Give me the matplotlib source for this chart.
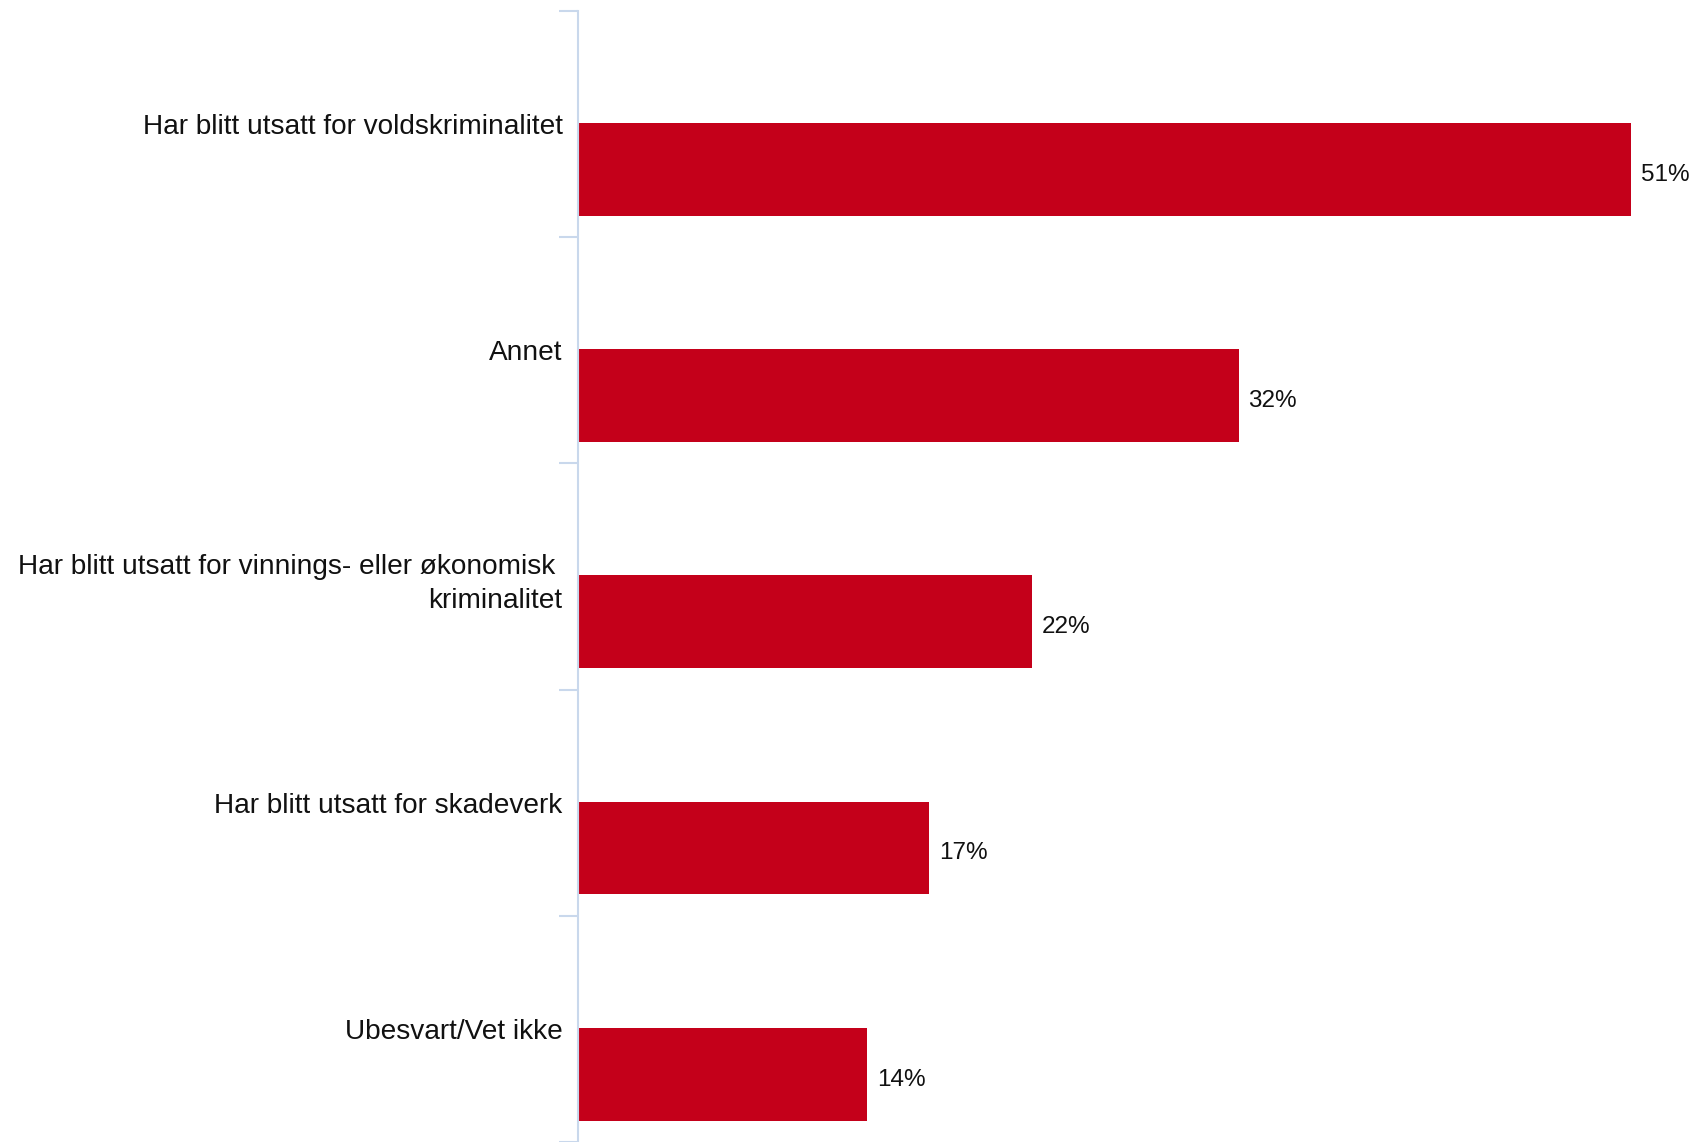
import matplotlib.pyplot as plt
import numpy as np

categories = [
    "Har blitt utsatt for voldskriminalitet",
    "Annet",
    "Har blitt utsatt for vinnings- eller økonomisk \nkriminalitet",
    "Har blitt utsatt for skadeverk",
    "Ubesvart/Vet ikke",
]
values = [51, 32, 22, 17, 14]
value_labels = ["51%", "32%", "22%", "17%", "14%"]

plt.rcParams["font.family"] = ["Liberation Sans", "DejaVu Sans"]

fig = plt.figure(figsize=(16.95, 11.42), dpi=100)
ax = fig.add_axes([578 / 1695, 0, 1 - 578 / 1695, 1 - 11 / 1142])

y = np.arange(len(categories))
bar_off = 0.2
ax.barh(y + bar_off, values, height=0.41, color="#c4001a", edgecolor="none")

for yi, v, lab in zip(y, values, value_labels):
    ax.annotate(lab, (v, yi + bar_off), xytext=(7, -4), textcoords="offset points",
                va="center", ha="left", fontsize=17.5, color="#111111")

ax.set_xlim(0, 54.1)
ax.set_ylim(len(categories) - 0.5, -0.5)

# labels at category centres, tick marks at boundaries
ax.set_yticks(y)
ax.set_yticklabels(categories, fontsize=20.2, color="#111111", ha="right")
for t in ax.get_yticklabels():
    t.set_linespacing(1.4)
ax.tick_params(axis="y", which="major", length=0, pad=11)
ax.set_yticks(np.arange(-0.5, len(categories), 1), minor=True)
ax.tick_params(axis="y", which="minor", length=14, width=1.5, color="#c9d8ec")

ax.set_xticks([])
for s in ["top", "right", "bottom"]:
    ax.spines[s].set_visible(False)
ax.spines["left"].set_color("#c9d8ec")
ax.spines["left"].set_linewidth(1.5)

fig.savefig("out.png", dpi=100)
